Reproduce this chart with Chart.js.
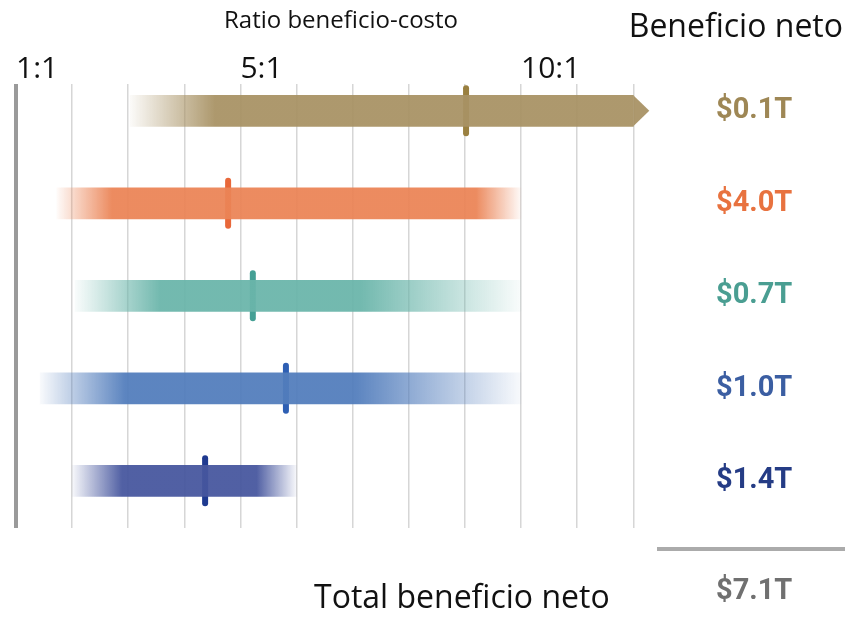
<!DOCTYPE html>
<html>
<head>
<meta charset="utf-8">
<script src="https://cdn.jsdelivr.net/npm/chart.js@4/dist/chart.umd.min.js"></script>
<style>
  html, body { margin: 0; padding: 0; background: #fff; }
  #wrap { width: 848px; height: 622px; }
</style>
</head>
<body>
<div id="wrap"><canvas id="chart"></canvas></div>
<script>
// benefit-cost ratio ranges, one row per item (top to bottom)
const rangeStart = [3.03, 1.73, 2.05, 1.43, 2.0];
const rangeEnd = [12, 10, 10, 10, 6];
const openEnded = [true, false, false, false, false];
const centralRatio = [9.02, 4.78, 5.22, 5.81, 4.37];
const netBenefit = ['$0.1T', '$4.0T', '$0.7T', '$1.0T', '$1.4T'];
const totalNet = '$7.1T';

const ratioTicks = [1, 2, 3, 4, 5, 6, 7, 8, 9, 10, 11, 12];
const labeledRatios = [1, 5, 10];

const axisTitle = 'Ratio beneficio-costo';
const columnTitle = 'Beneficio neto';
const totalTitle = 'Total beneficio neto';

// styling
const barColors = ['168,146,100', '235,132,86', '106,181,170', '82,125,188', '70,86,158'];
const markerColors = ['#9a8040', '#e8683a', '#45a095', '#2e5fb3', '#1f3a90'];
const labelColors = ['#9e8755', '#e8723f', '#4a9e92', '#3b5ea2', '#253c85'];
const fadeIn = [85, 55, 85, 85, 50];   // px of fade at left end
const fadeOut = [0, 45, 160, 165, 40]; // px of fade at right end

function barFill(c) {
  const chart = c.chart;
  const i = c.dataIndex;
  if (i === undefined) return 'rgba(0,0,0,0)';
  const col = barColors[i];
  const x = chart.scales.x;
  if (!chart.chartArea || !x) return `rgba(${col},0.94)`;
  const x0 = x.getPixelForValue(rangeStart[i]);
  const x1 = x.getPixelForValue(rangeEnd[i]);
  const len = x1 - x0;
  const solid = `rgba(${col},0.94)`;
  const clear = `rgba(${col},0.04)`;
  const g = chart.ctx.createLinearGradient(x0, 0, x1, 0);
  g.addColorStop(0, clear);
  g.addColorStop(Math.min(fadeIn[i] / len, 0.5), solid);
  g.addColorStop(Math.max(1 - fadeOut[i] / len, 0.5), solid);
  g.addColorStop(1, fadeOut[i] ? clear : solid);
  return g;
}

const arrowPlugin = {
  id: 'arrow',
  afterDatasetDraw(chart, args) {
    if (args.index !== 0) return;
    const ctx = chart.ctx;
    openEnded.forEach((on, i) => {
      if (!on) return;
      const bar = args.meta.data[i];
      const h = bar.height / 2;
      ctx.save();
      ctx.fillStyle = `rgba(${barColors[i]},0.94)`;
      ctx.beginPath();
      ctx.moveTo(bar.x, bar.y - h);
      ctx.lineTo(bar.x + 16, bar.y);
      ctx.lineTo(bar.x, bar.y + h);
      ctx.closePath();
      ctx.fill();
      ctx.restore();
    });
  }
};

const roundCaps = {
  id: 'roundCaps',
  beforeDatasetDraw(chart, args) {
    if (args.index === 1) chart.ctx.lineCap = 'round';
  },
  afterDatasetDraw(chart, args) {
    if (args.index === 1) chart.ctx.lineCap = 'butt';
  }
};

const textPlugin = {
  id: 'texts',
  afterDraw(chart) {
    const ctx = chart.ctx;
    const yScale = chart.scales.y;
    ctx.save();
    ctx.fillStyle = '#111';
    ctx.textBaseline = 'alphabetic';
    ctx.font = '24px "Open Sans"';
    ctx.textAlign = 'center';
    ctx.fillText(axisTitle, 341, 28);
    ctx.font = '32px "Open Sans"';
    ctx.textAlign = 'right';
    ctx.fillText(columnTitle, 843, 37);

    ctx.strokeStyle = '#ababab';
    ctx.lineWidth = 4;
    ctx.beginPath();
    ctx.moveTo(657, 549);
    ctx.lineTo(845, 549);
    ctx.stroke();

    ctx.textAlign = 'left';
    ctx.fillText(totalTitle, 314, 608);
    ctx.font = 'bold 29px Roboto';
    ctx.fillStyle = '#707070';
    ctx.textBaseline = 'middle';
    ctx.fillText(totalNet, yScale.left + 67, 592);
    ctx.restore();
  }
};

new Chart(document.getElementById('chart'), {
  type: 'bar',
  data: {
    datasets: [
      {
        type: 'bar',
        indexAxis: 'y',
        data: rangeStart.map((s, i) => ({ x: [s, rangeEnd[i]], y: i })),
        backgroundColor: barFill,
        borderWidth: 0,
        barThickness: 31,
      },
      {
        type: 'scatter',
        data: centralRatio.map((v, i) => ({ x: v, y: i })),
        pointStyle: 'line',
        rotation: 90,
        radius: 22.5,
        hoverRadius: 22.5,
        borderWidth: 6,
        borderColor: markerColors,
        backgroundColor: markerColors,
      },
    ],
  },
  options: {
    responsive: true,
    maintainAspectRatio: false,
    animation: false,
    events: [],
    layout: { autoPadding: false, padding: { top: 32, left: 16, right: 0, bottom: 94 } },
    plugins: {
      legend: { display: false },
      tooltip: { enabled: false },
    },
    scales: {
      x: {
        type: 'linear',
        position: 'top',
        offset: false,
        min: 1,
        max: 12.28,
        afterBuildTicks: s => { s.ticks = ratioTicks.map(v => ({ value: v })); },
        afterFit: s => { s.height = 50; },
        border: { display: false },
        grid: {
          offset: false,
          drawTicks: false,
          color: c => (c.tick && c.tick.value === 1 ? '#9a9a9a' : '#d6d6d6'),
          lineWidth: c => (c.tick && c.tick.value === 1 ? 4 : 1.5),
        },
        ticks: {
          autoSkip: false,
          maxRotation: 0,
          align: 'start',
          padding: 0,
          color: '#111',
          font: { family: '"Open Sans"', size: 30, lineHeight: 1 },
          callback: v => (labeledRatios.includes(v) ? v + ':1' : ''),
        },
      },
      y: {
        type: 'linear',
        position: 'right',
        offset: false,
        reverse: true,
        min: -0.286,
        max: 4.51,
        afterBuildTicks: s => { s.ticks = netBenefit.map((_, i) => ({ value: i })); },
        afterFit: s => { s.width = 199; },
        border: { display: false },
        grid: { display: false, drawTicks: false, offset: false },
        ticks: {
          padding: 67,
          color: c => labelColors[c.index],
          font: { family: 'Roboto', weight: 'bold', size: 29 },
          callback: (v, i) => netBenefit[i],
        },
      },
    },
  },
  plugins: [arrowPlugin, roundCaps, textPlugin],
});
</script>
</body>
</html>
